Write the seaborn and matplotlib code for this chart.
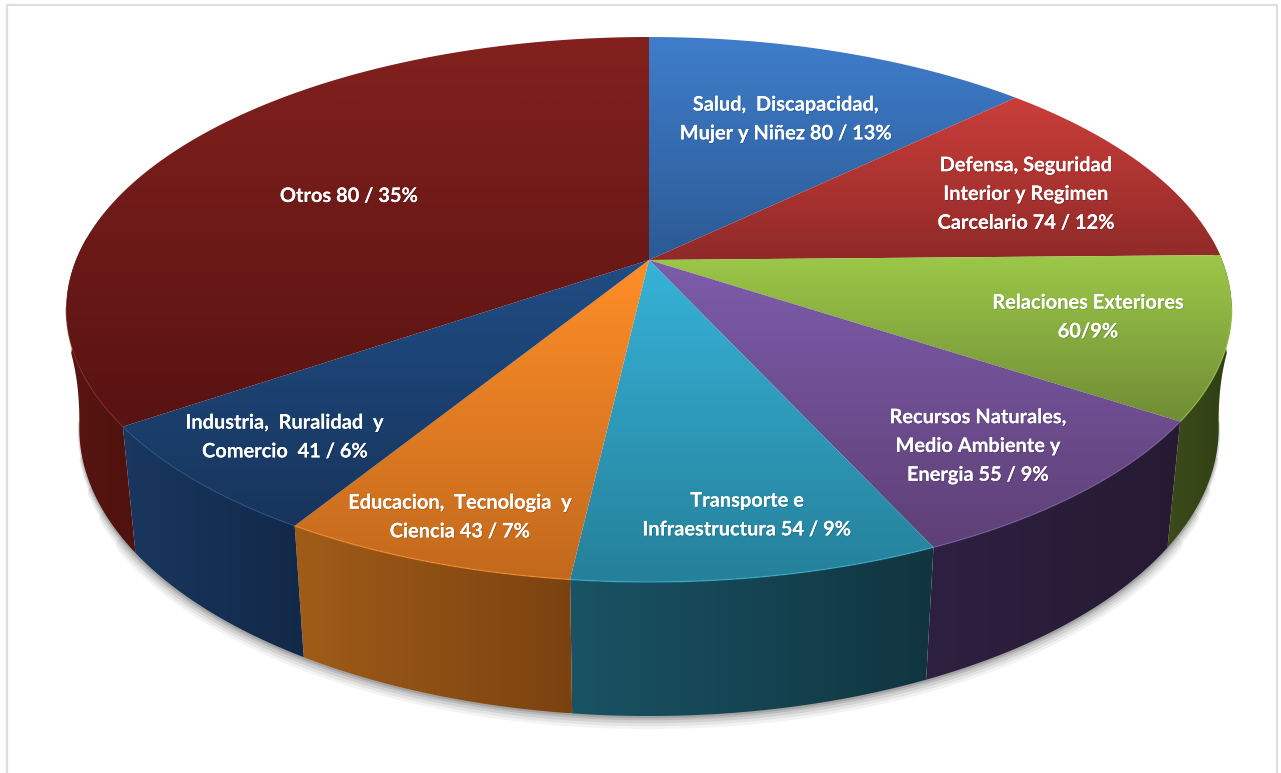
import numpy as np
import matplotlib
matplotlib.use("Agg")
import matplotlib.pyplot as plt
import matplotlib.patheffects as pe
from matplotlib.patches import Polygon
import seaborn as sns

# slice shares, estimated from the slice edges in the picture
categories = ["Salud", "Defensa", "Relaciones", "Recursos", "Transporte", "Educacion", "Industria", "Otros"]
shares = [12.8, 11.9, 9.6, 8.9, 8.6, 6.95, 6.65, 34.6]
labels = [
    "Salud,  Discapacidad,\nMujer y Niñez 80 / 13%",
    "Defensa, Seguridad\nInterior y Regimen\nCarcelario 74 / 12%",
    "Relaciones Exteriores\n60/9%",
    "Recursos Naturales,\nMedio Ambiente y\nEnergia 55 / 9%",
    "Transporte e\nInfraestructura 54 / 9%",
    "Educacion,  Tecnologia  y\nCiencia 43 / 7%",
    "Industria,  Ruralidad  y\nComercio  41 / 6%",
    "Otros 80 / 35%",
]

# colours: top face (light, dark), side wall (light, dark)
top_colors = [("#3F7DCB", "#2B5A94"), ("#CB3E3A", "#8F2A28"), ("#9CC848", "#708C35"), ("#7D5CAB", "#5E4076"),
              ("#36B3D8", "#25809A"), ("#FF8E28", "#C2691D"), ("#204C84", "#17355C"), ("#82211E", "#581312")]
side_colors = [("#7A1F1C", "#5A1410"), ("#7A1F1C", "#5A1410"), ("#3B4C19", "#303F14"), ("#2E2040", "#261A33"),
               ("#1A5364", "#103540"), ("#A05C18", "#7B4210"), ("#19375F", "#122848"), ("#5A1511", "#4E120E")]

# where the label blocks sit (pixels)
label_pos = [(786, 119), (1026, 194), (1088, 317), (978, 446), (747, 515), (460, 517), (285, 437), (349, 196)]

W, H = 1281, 773
CX, CY = 649, 260
A, B, K = 573, 263.5, 0.1817   # perspective of the pie disc
D, DROP = 0.022, 119.7         # the lower disc is pushed back and down
WALL_FROM, WALL_TO = 85, 275   # angles of the wall that can be seen


def rim(theta, lower=False):
    x, y = np.sin(theta), np.cos(theta)
    w = 1 + K * y
    if lower:
        w = w + D
        # the wall edge keeps going out near the sides instead of curling in
        bulge = 420 * np.clip(y + 0.17, 0, None) ** 2
        return CX + A * x / w + np.sign(x) * bulge, CY - (B * y - DROP) / w
    return CX + A * x / w, CY - B * y / w


def fill_gradient(ax, xs, ys, colors, vertical=True, zorder=2):
    cmap = sns.blend_palette(colors, as_cmap=True)
    g = np.linspace(0, 1, 256)
    g = g[:, None] if vertical else g[None, :]
    im = ax.imshow(g, cmap=cmap, aspect="auto", zorder=zorder, interpolation="bilinear",
                   extent=(min(xs), max(xs), max(ys), min(ys)), vmin=0, vmax=1)
    patch = Polygon(np.column_stack([xs, ys]), closed=True, transform=ax.transData, fc="none", ec="none")
    ax.add_patch(patch)
    im.set_clip_path(patch)


sns.set_theme(style="white")
plt.rcParams["font.family"] = ["Lato", "DejaVu Sans"]

fig = plt.figure(figsize=(W / 100, H / 100), dpi=100, facecolor="white")
ax = fig.add_axes([0, 0, 1, 1])
ax.set_axis_off()

# frame of the pasted picture
ax.plot([7, 7, 1277, 1277], [H + 5, 5, 5, H + 5], color="#DEDEDE", lw=1.6, zorder=1)

# soft shadow under the lower rim, the wider strokes stop sooner so it tapers at the sides
for spread, alpha, margin in zip([9, 7, 5, 3, 1.5], [0.06, 0.08, 0.11, 0.15, 0.2], [32, 27, 22, 16, 9]):
    t = np.radians(np.linspace(90 + margin, 270 - margin, 300))
    sx, sy = rim(t, lower=True)
    ax.plot(sx, sy + spread * 0.55, color="#404040", lw=spread * 1.3, alpha=alpha, zorder=1.5, solid_capstyle="round")

edges = np.radians(np.cumsum([0] + shares) / sum(shares) * 360)

# side walls, only the part that faces the viewer; the green wall starts a bit
# before its slice so that it closes against the top rim
wall_edges = edges.copy()
wall_edges[2] = np.radians(WALL_FROM)
for i in range(2, len(shares)):
    lo, hi = wall_edges[i], min(wall_edges[i + 1], np.radians(WALL_TO))
    t = np.linspace(lo, hi, 120)
    x1, y1 = rim(t)
    x2, y2 = rim(t[::-1], lower=True)
    fill_gradient(ax, np.r_[x1, x2], np.r_[y1, y2], side_colors[i], vertical=False, zorder=2)

# top faces
for i in range(len(shares)):
    t = np.linspace(edges[i], edges[i + 1], 150)
    x1, y1 = rim(t)
    xs, ys = np.r_[CX, x1], np.r_[CY, y1]
    fill_gradient(ax, xs, ys, top_colors[i], zorder=3)
    # thin light bevel along the front edge only
    lo, hi = max(edges[i], np.radians(100)), min(edges[i + 1], np.radians(260))
    if lo < hi:
        bx, by = rim(np.linspace(lo, hi, 100))
        ax.plot(bx, by, color=top_colors[i][0], lw=1.0, alpha=0.6, zorder=3.5)

for (x, y), txt in zip(label_pos, labels):
    tx = ax.text(x, y, txt, color="white", fontsize=14.4, fontweight="bold", ha="center", va="center",
                 linespacing=1.55, zorder=5)
    tx.set_path_effects([pe.withSimplePatchShadow(offset=(0.6, -0.6), shadow_rgbFace="black", alpha=0.18), pe.Normal()])

ax.set_xlim(0, W)
ax.set_ylim(H, 0)
fig.savefig("out.png", dpi=100)
